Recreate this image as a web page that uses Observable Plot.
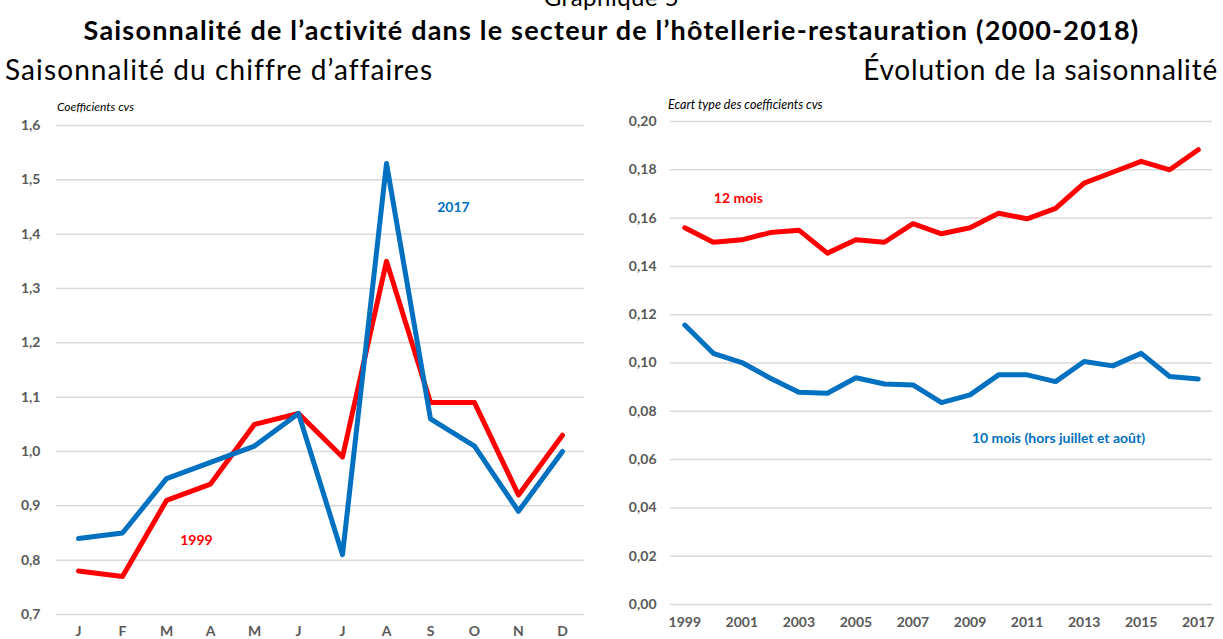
<!DOCTYPE html>
<html>
<head>
<meta charset="utf-8">
<script src="https://cdn.jsdelivr.net/npm/d3@7"></script>
<script src="https://cdn.jsdelivr.net/npm/@observablehq/plot@0.6"></script>
<style>
  html, body { margin: 0; padding: 0; background: #fff; }
  #page { position: relative; width: 1223px; height: 639px; overflow: hidden; font-family: Lato, "Open Sans", sans-serif; }
  .t { position: absolute; white-space: nowrap; color: #000; }
  #sup { left: 0; width: 1223px; text-align: center; top: -18px; font-size: 24px; letter-spacing: 0.5px; }
  #title { left: 0; width: 1223px; text-align: center; top: 13px; font-size: 27px; font-weight: bold; letter-spacing: 1.2px; }
  #subL { left: 5px; top: 52px; font-size: 28px; letter-spacing: 1.1px; }
  #subR { right: 5px; top: 52px; font-size: 28px; letter-spacing: 0.8px; }
  .unit { position: absolute; font-style: italic; font-size: 12px; color: #000; white-space: nowrap; }
  #left { position: absolute; left: 0; top: 90px; }
  #right { position: absolute; left: 600px; top: 90px; }
</style>
</head>
<body>
<div id="page">
  <div class="t" id="sup">Graphique 5</div>
  <div class="t" id="title">Saisonnalité de l’activité dans le secteur de l’hôtellerie-restauration (2000-2018)</div>
  <div class="t" id="subL">Saisonnalité du chiffre d’affaires</div>
  <div class="t" id="subR">Évolution de la saisonnalité</div>
  <div id="left"></div>
  <div id="right"></div>
  <div class="unit" style="left:57px; top:99px;">Coefficients cvs</div>
  <div class="unit" style="left:668px; top:97px; font-size:12.5px;">Ecart type des coefficients cvs</div>
</div>
<script>
// ---- Left chart data ----
const monthLabels = ["J","F","M","A","M","J","J","A","S","O","N","D"];
const monthIndex = [1,2,3,4,5,6,7,8,9,10,11,12];
const coef1999 = [0.78,0.77,0.91,0.94,1.05,1.07,0.99,1.35,1.09,1.09,0.92,1.03];
const coef2017 = [0.84,0.85,0.95,0.98,1.01,1.07,0.81,1.53,1.06,1.01,0.89,1.00];
const leftTicksY = [0.7,0.8,0.9,1.0,1.1,1.2,1.3,1.4,1.5,1.6];

// ---- Right chart data ----
const years = [1999,2000,2001,2002,2003,2004,2005,2006,2007,2008,2009,2010,2011,2012,2013,2014,2015,2016,2017];
const sd12 = [0.156,0.150,0.151,0.154,0.155,0.1455,0.151,0.150,0.1577,0.1535,0.156,0.162,0.1597,0.164,0.1745,0.179,0.1835,0.180,0.1883];
const sd10 = [0.1157,0.104,0.1002,0.0937,0.0879,0.0875,0.0939,0.0913,0.0909,0.0836,0.0868,0.0951,0.0951,0.0923,0.1006,0.0988,0.104,0.0944,0.0934];
const yearTicks = [1999,2001,2003,2005,2007,2009,2011,2013,2015,2017];
const rightTicksY = [0,0.02,0.04,0.06,0.08,0.10,0.12,0.14,0.16,0.18,0.20];

const RED = "#FF0000", BLUE = "#0070C0", GRID = "#d9d9d9", AX = "#595959";
const fmt1 = d => d3.format(".1f")(d).replace(".", ",");
const fmt2 = d => d3.format(".2f")(d).replace(".", ",");
const FONT = "Lato, 'Open Sans', sans-serif";

const left1999 = monthIndex.map((m, i) => ({m, v: coef1999[i]}));
const left2017 = monthIndex.map((m, i) => ({m, v: coef2017[i]}));

const leftLabels = [
  {m: 9.52, v: 1.449, text: "2017", color: BLUE},
  {m: 3.68, v: 0.836, text: "1999", color: RED}
];

const leftPlot = Plot.plot({
  width: 600, height: 549,
  marginLeft: 56, marginRight: 16, marginTop: 35, marginBottom: 25,
  style: {fontFamily: FONT, background: "transparent"},
  x: {domain: [0.5, 12.5], label: null, axis: null},
  y: {domain: [0.7, 1.6], label: null, axis: null},
  marks: [
    Plot.gridY(leftTicksY, {stroke: GRID, strokeOpacity: 1, strokeWidth: 1.5}),
    Plot.axisY({ticks: leftTicksY, tickFormat: fmt1, tickSize: 0, tickPadding: 16, fontSize: 14, fontWeight: "bold", fill: AX, label: null}),
    Plot.axisX({ticks: monthIndex, tickFormat: d => monthLabels[d - 1], tickSize: 0, tickPadding: 12, fontSize: 14, fontWeight: "bold", fill: AX, label: null}),
    Plot.line(left1999, {x: "m", y: "v", stroke: RED, strokeWidth: 5, strokeLinecap: "round", strokeLinejoin: "round"}),
    Plot.line(left2017, {x: "m", y: "v", stroke: BLUE, strokeWidth: 5, strokeLinecap: "round", strokeLinejoin: "round"}),
    Plot.text(leftLabels, {x: "m", y: "v", text: "text", fill: "color", fontSize: 14, fontWeight: "bold", style: "letter-spacing:0.5px"})
  ]
});
document.getElementById("left").appendChild(leftPlot);

const right12 = years.map((y, i) => ({y, v: sd12[i]}));
const right10 = years.map((y, i) => ({y, v: sd10[i]}));
const rightLabels = [
  {y: 2000.88, v: 0.168, text: "12 mois", color: RED},
  {y: 2012.1, v: 0.0687, text: "10 mois (hors juillet et août)", color: BLUE}
];

const rightPlot = Plot.plot({
  width: 623, height: 549,
  marginLeft: 70, marginRight: 11, marginTop: 31, marginBottom: 35,
  style: {fontFamily: FONT, background: "transparent"},
  x: {domain: [1998.5, 2017.5], label: null, axis: null},
  y: {domain: [0, 0.2], label: null, axis: null},
  marks: [
    Plot.gridY(rightTicksY, {stroke: GRID, strokeOpacity: 1, strokeWidth: 1.5}),
    Plot.axisY({ticks: rightTicksY, tickFormat: fmt2, tickSize: 0, tickPadding: 14, fontSize: 14, fontWeight: "bold", fill: AX, label: null}),
    Plot.axisX({ticks: yearTicks, tickFormat: d => String(d), tickSize: 0, tickPadding: 13, fontSize: 14, fontWeight: "bold", fill: AX, label: null}),
    Plot.line(right12, {x: "y", y: "v", stroke: RED, strokeWidth: 5, strokeLinecap: "round", strokeLinejoin: "round"}),
    Plot.line(right10, {x: "y", y: "v", stroke: BLUE, strokeWidth: 5, strokeLinecap: "round", strokeLinejoin: "round"}),
    Plot.text(rightLabels, {x: "y", y: "v", text: "text", fill: "color", fontSize: 14, fontWeight: "bold", style: "letter-spacing:0.7px"})
  ]
});
document.getElementById("right").appendChild(rightPlot);
</script>
</body>
</html>
